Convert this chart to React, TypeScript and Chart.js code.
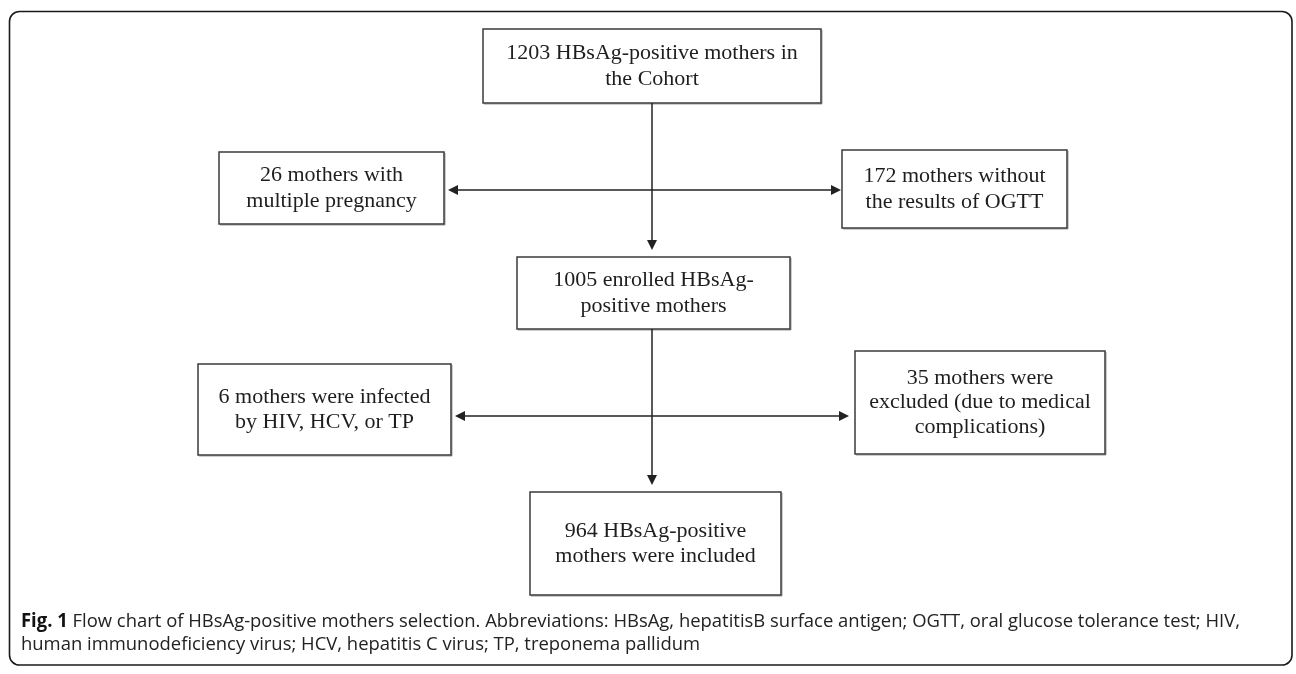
import React, { useEffect, useRef } from "react";
import { Chart, registerables } from "chart.js";

Chart.register(...registerables);

// ---- Data (counts of mothers at each step) ----
const stepCounts = [1203, 26, 172, 1005, 6, 35, 964];
const stepLabels: string[][] = [
  ["1203 HBsAg-positive mothers in", "the Cohort"],
  ["26 mothers with", "multiple pregnancy"],
  ["172 mothers without", "the results of OGTT"],
  ["1005 enrolled HBsAg-", "positive mothers"],
  ["6 mothers were infected", "by HIV, HCV, or TP"],
  ["35 mothers were", "excluded (due to medical", "complications)"],
  ["964 HBsAg-positive", "mothers were included"],
];
const captionBold = "Fig. 1";
const captionLines = [
  " Flow chart of HBsAg-positive mothers selection. Abbreviations: HBsAg, hepatitisB surface antigen; OGTT, oral glucose tolerance test; HIV,",
  "human immunodeficiency virus; HCV, hepatitis C virus; TP, treponema pallidum",
];

// ---- Layout (in axis units) ----
const boxLeft = [483, 219, 842, 517, 198, 855, 530];
const boxTop = [29, 152, 150, 257, 364, 351, 492];
const boxRight = [821, 444, 1067, 790, 451, 1105, 781];
const boxBottom = [103, 224, 228, 329, 455, 454, 595];
const spineX = 652;
// arrows: [x1, y1, x2, y2, headAtStart, headAtEnd]
const arrows: [number, number, number, number, boolean, boolean][] = [
  [spineX, 103, spineX, 250, false, true],
  [448, 190, 841, 190, true, true],
  [spineX, 329, spineX, 485, false, true],
  [455, 416, 849, 416, true, true],
];

const W = 1296;
const H = 674;

export default function App() {
  const ref = useRef<HTMLCanvasElement | null>(null);

  useEffect(() => {
    document.body.style.margin = "0";
    const canvas = ref.current;
    if (!canvas) return;

    const flowPlugin = {
      id: "flow",
      afterDraw(chart: any) {
        const ctx: CanvasRenderingContext2D = chart.ctx;
        const xs = chart.scales.x;
        const ys = chart.scales.y;
        const X = (v: number) => xs.getPixelForValue(v);
        const Y = (v: number) => ys.getPixelForValue(v);
        ctx.save();

        // outer rounded frame
        ctx.strokeStyle = "#1a1a1a";
        ctx.lineWidth = 1.6;
        ctx.beginPath();
        (ctx as any).roundRect(X(9.5), Y(11.5), X(1292) - X(9.5), Y(665) - Y(11.5), 10);
        ctx.stroke();

        // boxes
        const ds = chart.data.datasets[0].data as any[];
        ds.forEach((pt: any, i: number) => {
          const l = X(boxLeft[i]);
          const t = Y(boxTop[i]);
          const r = X(boxRight[i]);
          const b = Y(boxBottom[i]);
          ctx.fillStyle = "#ffffff";
          ctx.fillRect(l, t, r - l, b - t);
          // slight shadow
          ctx.strokeStyle = "#9a9a9a";
          ctx.lineWidth = 1;
          ctx.beginPath();
          ctx.moveTo(l + 1, b + 1);
          ctx.lineTo(r + 1, b + 1);
          ctx.lineTo(r + 1, t + 1);
          ctx.stroke();
          ctx.strokeStyle = "#3a3a3a";
          ctx.lineWidth = 1.5;
          ctx.strokeRect(l, t, r - l, b - t);
          // text
          const lines: string[] = stepLabels[i];
          ctx.fillStyle = "#1e1e1e";
          ctx.font = "22px 'Liberation Serif', 'Times New Roman', serif";
          ctx.textAlign = "center";
          ctx.textBaseline = "middle";
          const lh = lines.length > 2 ? 24.5 : 25.5;
          const cx = X(pt.x);
          const cy = Y(pt.y);
          lines.forEach((s, k) => {
            ctx.fillText(s, cx, cy + (k - (lines.length - 1) / 2) * lh);
          });
        });

        // arrows
        ctx.strokeStyle = "#222";
        ctx.fillStyle = "#222";
        ctx.lineWidth = 1.5;
        const head = (x: number, y: number, dx: number, dy: number) => {
          const len = 10;
          const hw = 5;
          const px = -dy;
          const py = dx;
          ctx.beginPath();
          ctx.moveTo(x, y);
          ctx.lineTo(x - dx * len + px * hw, y - dy * len + py * hw);
          ctx.lineTo(x - dx * len - px * hw, y - dy * len - py * hw);
          ctx.closePath();
          ctx.fill();
        };
        arrows.forEach(([x1, y1, x2, y2, hs, he]) => {
          const a = X(x1), b = Y(y1), c = X(x2), d = Y(y2);
          const len = Math.hypot(c - a, d - b);
          const ux = (c - a) / len;
          const uy = (d - b) / len;
          ctx.beginPath();
          ctx.moveTo(a + (hs ? ux * 6 : 0), b + (hs ? uy * 6 : 0));
          ctx.lineTo(c - (he ? ux * 6 : 0), d - (he ? uy * 6 : 0));
          ctx.stroke();
          if (he) head(c, d, ux, uy);
          if (hs) head(a, b, -ux, -uy);
        });

        // caption
        const fontSize = 19;
        const capX = X(21);
        const baseY = [Y(627), Y(650)];
        const targetEnd = X(1240);
        ctx.textAlign = "left";
        ctx.textBaseline = "alphabetic";
        ctx.fillStyle = "#222";
        const boldFont = `bold ${fontSize}px 'Open Sans', 'Noto Sans', sans-serif`;
        const normFont = `${fontSize}px 'Open Sans', 'Noto Sans', sans-serif`;
        ctx.font = boldFont;
        const wBold = ctx.measureText(captionBold).width;
        ctx.font = normFont;
        const w1 = ctx.measureText(captionLines[0]).width;
        const sx = (targetEnd - capX) / (wBold + w1);
        ctx.save();
        ctx.translate(capX, 0);
        ctx.scale(sx, 1);
        ctx.font = boldFont;
        ctx.fillStyle = "#111";
        ctx.fillText(captionBold, 0, baseY[0]);
        ctx.font = normFont;
        ctx.fillStyle = "#222";
        ctx.fillText(captionLines[0], wBold, baseY[0]);
        ctx.fillText(captionLines[1], 0, baseY[1]);
        ctx.restore();

        ctx.restore();
      },
    };

    const points = stepCounts.map((n, i) => ({
      x: (boxLeft[i] + boxRight[i]) / 2,
      y: (boxTop[i] + boxBottom[i]) / 2,
      n,
    }));

    const chart = new Chart(canvas, {
      type: "scatter",
      data: {
        datasets: [
          {
            label: "Mothers",
            data: points,
            pointRadius: 0,
            pointHoverRadius: 0,
          },
        ],
      },
      options: {
        animation: false,
        responsive: false,
        devicePixelRatio: 1,
        layout: { padding: 0 },
        plugins: {
          legend: { display: false },
          tooltip: { enabled: false },
          title: { display: false },
        },
        scales: {
          x: { type: "linear", min: 0, max: W, display: false },
          y: { type: "linear", min: 0, max: H, reverse: true, display: false },
        },
      },
      plugins: [flowPlugin],
    });

    return () => chart.destroy();
  }, []);

  return (
    <div style={{ width: W, height: H, background: "#ffffff" }}>
      <canvas ref={ref} width={W} height={H} style={{ display: "block" }} />
    </div>
  );
}
